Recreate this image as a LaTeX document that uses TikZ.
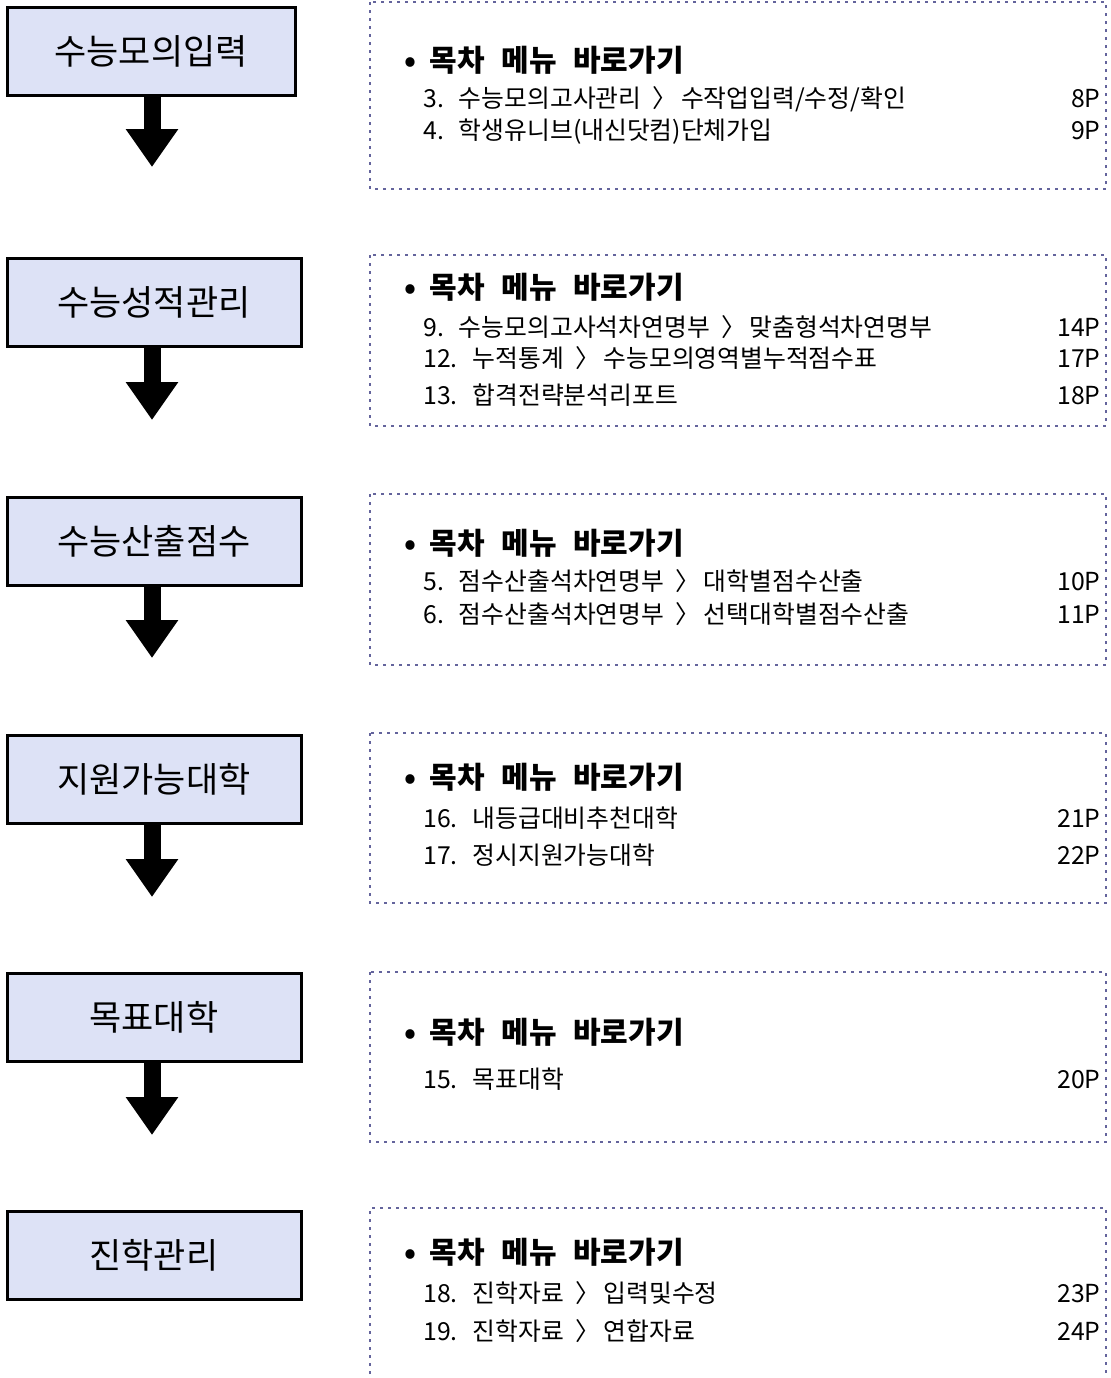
\documentclass[tikz,border=0pt]{standalone}
\usepackage{fontspec}
\setmainfont{Noto Sans CJK KR}
\usetikzlibrary{arrows.meta}
\definecolor{stagefill}{HTML}{DDE2F6}
\definecolor{dotline}{HTML}{64649C}
\newcommand{\gt}{\hspace{0.45em}〉\hspace{0.15em}}
\newcommand{\menutitle}{•\hspace{0.45em}목차\hspace{0.55em}메뉴\hspace{0.55em}바로가기}

\begin{document}
\begin{tikzpicture}[x=0.5pt,y=-0.5pt]
	% Set styles
	\tikzset{
		stage box/.style={draw, line width=1.5pt, fill=stagefill, minimum width=147pt, minimum height=44pt, inner sep=0pt, font=\fontsize{17.5}{20}\selectfont},
		menu box/.style={draw=dotline, line width=1.3pt, dash pattern=on 1.3pt off 2.7pt},
		menu head/.style={anchor=west, inner sep=0pt, text height=0.8em, text depth=0.2em, font=\fontsize{15}{18}\selectfont\bfseries},
		menu item/.style={anchor=west, inner sep=0pt, text height=0.8em, text depth=0.2em, font=\fontsize{12.4}{14}\selectfont},
		menu page/.style={anchor=east, inner sep=0pt, text height=0.8em, text depth=0.2em, font=\fontsize{12.4}{14}\selectfont},
		down arrow/.style={line width=8.5pt, -{Triangle[width=25pt,length=19pt]}}
	}
	\useasboundingbox (0,0) rectangle (1111,1378);
	
	% Stage boxes on the left
	\node [stage box, minimum width=144pt] (s1) at (151,51) {수능모의입력};
	\node [stage box] (s2) at (154,302) {수능성적관리};
	\node [stage box] (s3) at (154,541) {수능산출점수};
	\node [stage box] (s4) at (154,779) {지원가능대학};
	\node [stage box] (s5) at (154,1017) {목표대학};
	\node [stage box] (s6) at (154,1255) {진학관리};
	
	% Arrows between stages
	\coordinate (t1) at (152,167);
	\coordinate (t2) at (152,420);
	\coordinate (t3) at (152,658);
	\coordinate (t4) at (152,897);
	\coordinate (t5) at (152,1135);
	\draw [down arrow] (s1.south -| t1) -- (t1);
	\draw [down arrow] (s2.south -| t2) -- (t2);
	\draw [down arrow] (s3.south -| t3) -- (t3);
	\draw [down arrow] (s4.south -| t4) -- (t4);
	\draw [down arrow] (s5.south -| t5) -- (t5);
	
	% Menu boxes on the right
	\draw [menu box] (370,2) rectangle (1106,189);
	\draw [menu box] (370,255) rectangle (1106,426);
	\draw [menu box] (370,494) rectangle (1106,665);
	\draw [menu box] (370,733) rectangle (1106,903);
	\draw [menu box] (370,972) rectangle (1106,1142);
	\draw [menu box] (370,1390) |- (1106,1208) -- (1106,1390);
	
	% Menu 1
	\node [menu head] (h1) at (404,65) {\menutitle};
	\node [menu item] (m3) at (423,101) {3.\hspace{0.6em}수능모의고사관리\gt 수작업입력/수정/확인};
	\node [menu page] (p3) at (1101,101) {8P};
	\node [menu item] (m4) at (423,133) {4.\hspace{0.6em}학생유니브(내신닷컴)단체가입};
	\node [menu page] (p4) at (1101,133) {9P};
	
	% Menu 2
	\node [menu head] (h2) at (404,292) {\menutitle};
	\node [menu item] (m9) at (423,330) {9.\hspace{0.6em}수능모의고사석차연명부\gt 맞춤형석차연명부};
	\node [menu page] (p9) at (1101,330) {14P};
	\node [menu item] (m12) at (423,361) {12.\hspace{0.6em}누적통계\gt 수능모의영역별누적점수표};
	\node [menu page] (p12) at (1101,361) {17P};
	\node [menu item] (m13) at (423,398) {13.\hspace{0.6em}합격전략분석리포트};
	\node [menu page] (p13) at (1101,398) {18P};
	
	% Menu 3
	\node [menu head] (h3) at (404,548) {\menutitle};
	\node [menu item] (m5) at (423,584) {5.\hspace{0.6em}점수산출석차연명부\gt 대학별점수산출};
	\node [menu page] (p5) at (1101,584) {10P};
	\node [menu item] (m6) at (423,617) {6.\hspace{0.6em}점수산출석차연명부\gt 선택대학별점수산출};
	\node [menu page] (p6) at (1101,617) {11P};
	
	% Menu 4
	\node [menu head] (h4) at (404,782) {\menutitle};
	\node [menu item] (m16) at (423,821) {16.\hspace{0.6em}내등급대비추천대학};
	\node [menu page] (p16) at (1101,821) {21P};
	\node [menu item] (m17) at (423,858) {17.\hspace{0.6em}정시지원가능대학};
	\node [menu page] (p17) at (1101,858) {22P};
	
	% Menu 5
	\node [menu head] (h5) at (404,1037) {\menutitle};
	\node [menu item] (m15) at (423,1082) {15.\hspace{0.6em}목표대학};
	\node [menu page] (p15) at (1101,1082) {20P};
	
	% Menu 6
	\node [menu head] (h6) at (404,1257) {\menutitle};
	\node [menu item] (m18) at (423,1296) {18.\hspace{0.6em}진학자료\gt 입력및수정};
	\node [menu page] (p18) at (1101,1296) {23P};
	\node [menu item] (m19) at (423,1334) {19.\hspace{0.6em}진학자료\gt 연합자료};
	\node [menu page] (p19) at (1101,1334) {24P};
	
\end{tikzpicture}
\end{document}
